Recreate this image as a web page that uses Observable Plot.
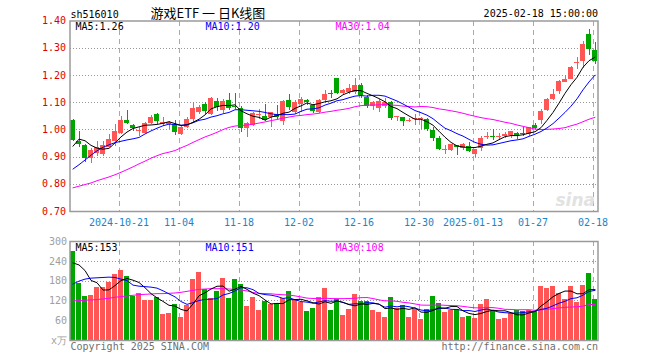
<!DOCTYPE html>
<html>
<head>
<meta charset="utf-8">
<script src="https://cdn.jsdelivr.net/npm/d3@7"></script>
<script src="https://cdn.jsdelivr.net/npm/@observablehq/plot@0.6"></script>
<style>
  html, body { margin: 0; padding: 0; background: #fff; }
  #wrap { position: relative; width: 660px; height: 360px; overflow: hidden; background: #fff; }
  #wrap svg { position: absolute; left: 0; }
</style>
</head>
<body>
<div id="wrap"></div>
<script>
// ---------------- data ----------------
const code = "sh516010";
const title = "游戏ETF 一 日K线图";
const stamp = "2025-02-18 15:00:00";
const tickIdx = [8, 18, 28, 38, 48, 58, 67, 77, 87];
const tickLabels = ["2024-10-21", "11-04", "11-18", "12-02", "12-16", "12-30", "2025-01-13", "01-27", "02-18"];
const priceTicks = [0.70, 0.80, 0.90, 1.00, 1.10, 1.20, 1.30, 1.40];
const volTicks = [0, 60, 120, 180, 240, 300];
const volTickLabels = ["x万", "60", "120", "180", "240", "300"];
const maLabels = ["MA5:1.26", "MA10:1.20", "MA30:1.04"];
const volMaLabels = ["MA5:153", "MA10:151", "MA30:108"];
const footLeft = "Copyright 2025 SINA.COM";
const footRight = "http://finance.sina.com.cn";

const open = [1.034,0.958,0.942,0.896,0.913,0.909,0.937,0.958,0.986,1.034,
  1.015,0.993,0.986,1.023,1.056,1.019,1.020,1.019,0.982,1.009,
  1.037,1.064,1.092,1.056,1.104,1.071,1.107,1.085,1.077,1.006,
  1.017,1.053,1.049,1.044,1.056,1.031,1.107,1.062,1.092,1.108,
  1.090,1.064,1.107,1.133,1.188,1.135,1.139,1.139,1.163,1.120,
  1.086,1.078,1.087,1.099,1.045,1.046,1.032,1.038,1.037,1.037,
  0.998,0.968,0.925,0.925,0.940,0.930,0.940,0.909,0.930,0.972,
  0.974,0.972,0.974,0.979,0.985,0.986,0.982,1.015,1.035,1.071,
  1.111,1.141,1.174,1.186,1.243,1.253,1.352,1.290];
const close = [0.960,0.948,0.896,0.925,0.935,0.942,0.964,0.995,1.035,1.025,
  1.004,0.996,1.023,1.044,1.031,1.027,1.026,0.989,1.009,1.037,
  1.080,1.082,1.068,1.117,1.082,1.106,1.078,1.083,1.006,1.024,
  1.060,1.058,1.036,1.062,1.044,1.104,1.082,1.101,1.111,1.099,
  1.066,1.107,1.131,1.130,1.135,1.144,1.151,1.163,1.125,1.086,
  1.099,1.104,1.099,1.041,1.047,1.031,1.035,1.041,1.040,1.001,
  0.968,0.927,0.928,0.946,0.938,0.945,0.919,0.927,0.970,0.975,
  0.971,0.975,0.982,0.993,0.976,0.984,1.007,1.004,1.068,1.111,
  1.129,1.178,1.184,1.229,1.246,1.312,1.297,1.253];
const high = [1.038,0.995,0.945,0.930,0.958,0.958,0.982,1.019,1.050,1.070,
  1.019,1.007,1.028,1.052,1.060,1.044,1.030,1.035,1.012,1.044,
  1.100,1.090,1.100,1.120,1.117,1.111,1.133,1.133,1.085,1.028,
  1.064,1.074,1.092,1.065,1.090,1.108,1.129,1.108,1.120,1.112,
  1.093,1.111,1.144,1.144,1.190,1.148,1.166,1.188,1.170,1.125,
  1.104,1.112,1.114,1.104,1.048,1.047,1.040,1.058,1.045,1.040,
  1.010,0.976,0.942,0.948,0.944,0.951,0.953,0.928,0.975,0.989,
  1.000,0.985,0.989,0.993,0.989,1.009,1.009,1.023,1.074,1.117,
  1.147,1.181,1.199,1.233,1.267,1.324,1.367,1.320];
const low = [0.957,0.937,0.881,0.876,0.903,0.903,0.934,0.940,0.984,1.019,
  0.995,0.976,0.985,1.019,1.020,1.013,1.000,0.979,0.978,1.005,
  1.025,1.055,1.058,1.052,1.068,1.060,1.070,1.076,0.991,0.972,
  1.012,1.037,1.031,1.009,1.037,1.016,1.070,1.056,1.064,1.090,
  1.060,1.060,1.097,1.117,1.130,1.130,1.130,1.130,1.117,1.078,
  1.070,1.064,1.078,1.034,1.031,1.013,1.027,1.015,1.000,0.995,
  0.956,0.925,0.909,0.921,0.905,0.924,0.918,0.900,0.921,0.964,
  0.962,0.962,0.967,0.970,0.964,0.976,0.976,1.000,1.019,1.068,
  1.107,1.129,1.173,1.184,1.223,1.227,1.275,1.241];
const ma5 = [0.940,0.966,0.960,0.943,0.933,0.929,0.932,0.952,0.974,0.992,
  1.005,1.011,1.017,1.018,1.020,1.024,1.030,1.023,1.016,1.018,
  1.028,1.039,1.055,1.077,1.085,1.090,1.089,1.092,1.070,1.059,
  1.050,1.046,1.036,1.047,1.052,1.061,1.065,1.079,1.088,1.099,
  1.092,1.097,1.103,1.107,1.114,1.129,1.138,1.145,1.144,1.134,
  1.125,1.115,1.103,1.086,1.078,1.064,1.051,1.039,1.039,1.030,
  1.017,0.995,0.973,0.954,0.941,0.937,0.935,0.935,0.940,0.947,
  0.952,0.964,0.975,0.979,0.979,0.982,0.988,0.993,1.008,1.035,
  1.064,1.098,1.134,1.166,1.193,1.230,1.254,1.267];
const ma10 = [0.856,0.872,0.889,0.907,0.923,0.936,0.945,0.953,0.958,0.963,
  0.967,0.972,0.985,0.996,1.006,1.015,1.021,1.020,1.017,1.019,
  1.026,1.035,1.039,1.047,1.052,1.059,1.064,1.074,1.074,1.072,
  1.070,1.068,1.064,1.059,1.056,1.056,1.056,1.058,1.068,1.076,
  1.077,1.081,1.091,1.098,1.107,1.111,1.118,1.124,1.126,1.124,
  1.127,1.127,1.124,1.115,1.106,1.095,1.083,1.071,1.063,1.054,
  1.041,1.023,1.006,0.997,0.986,0.977,0.965,0.954,0.947,0.944,
  0.945,0.950,0.955,0.960,0.963,0.967,0.976,0.984,0.994,1.007,
  1.023,1.043,1.064,1.087,1.114,1.147,1.176,1.201];
const ma30 = [0.787,0.793,0.799,0.805,0.813,0.820,0.827,0.835,0.844,0.854,
  0.864,0.875,0.885,0.896,0.905,0.913,0.918,0.924,0.934,0.943,
  0.954,0.964,0.974,0.982,0.991,1.001,1.009,1.014,1.016,1.018,
  1.021,1.025,1.029,1.034,1.038,1.043,1.047,1.051,1.053,1.056,
  1.058,1.061,1.065,1.068,1.072,1.075,1.079,1.085,1.089,1.091,
  1.091,1.092,1.093,1.091,1.090,1.087,1.086,1.084,1.086,1.085,
  1.082,1.077,1.074,1.070,1.066,1.061,1.055,1.050,1.045,1.041,
  1.038,1.033,1.028,1.024,1.018,1.013,1.008,1.003,1.001,1.002,
  1.003,1.005,1.008,1.015,1.021,1.030,1.039,1.046];
const vol = [271,173,134,137,160,160,176,199,212,193,
  134,141,120,122,130,79,82,110,70,107,
  185,206,155,127,149,188,128,185,170,104,
  130,91,119,110,112,127,149,122,115,88,
  97,130,157,91,125,76,94,139,119,119,
  91,85,69,130,97,106,69,94,64,94,
  133,112,84,91,94,69,72,66,109,124,
  88,63,66,81,91,87,92,88,163,157,
  163,142,124,163,115,166,202,124];
const vma5 = [235,229,212,182,175,152.8,153.4,166.4,181.4,188,
  182.8,175.8,160,142,129.4,118.4,106.6,104.6,94.2,89.6,
  110.8,135.6,144.6,156,164.4,165,149.4,155.4,164,155,
  143.4,136,122.8,110.8,112.4,111.8,123.4,124,125,120.2,
  114.2,110.4,117.4,112.6,120,115.8,108.6,105,110.6,109.4,
  112.4,110.6,96.6,98.8,94.4,97.4,94.2,99.2,86,85.4,
  90.8,99.4,97.4,102.8,102.8,90,82,78.4,82,88,
  91.8,90,90,84.4,77.8,77.6,83.4,87.8,104.2,117.4,
  132.6,142.6,149.8,149.8,141.4,142,154,154];
const vma10 = [171,180,186,189,190,191,192,191,186,181.5,
  167.8,164.6,163.2,161.7,158.7,150.6,141.2,132.3,118.1,109.5,
  114.6,121.1,124.6,125.1,127,137.9,142.5,150,160,159.7,
  154.2,142.7,139.1,137.4,133.7,127.6,129.7,123.4,117.9,116.3,
  113,116.9,120.7,118.8,120.1,115,109.5,111.2,111.6,114.7,
  114.1,109.6,100.8,104.7,101.9,104.9,102.4,97.9,92.4,89.9,
  94.1,96.8,98.3,94.4,94.1,90.4,90.7,87.9,92.4,95.4,
  90.9,86,84.2,83.2,82.9,84.7,86.7,88.9,94.3,97.6,
  105.1,113,118.8,127,129.4,137.3,148.3,151.9];
const vma30 = [120,121,122,123,124,126,128,131,133,135,
  137,139,140,141,142,142,143,144,146,149,
  152,155,156,157,157,157,156,155,153,150.2,
  145.5,142.8,142.3,141.4,139.8,138.7,137.8,135.2,132,128.5,
  127.3,126.9,128.1,127.1,126.9,126.8,127.2,128.2,129.8,130.2,
  127.1,123.1,120.2,120.3,118.6,115.8,113.9,110.8,107.3,107,
  107.1,107.8,106.6,106,105.4,103.4,100.9,99,98.8,100,
  99.7,97.5,94.4,94.1,93,93.3,93.3,91.6,93,94.3,
  96.7,98.6,100.4,101.5,102.1,104.1,108.6,109.6];

// ---------------- build tables ----------------
const RED = "#ff5555", GREEN = "#00a600";
const candles = open.map((o, i) => ({i, o, c: close[i], h: high[i], l: low[i], v: vol[i]}));
const colorOf = d => (d.c >= d.o ? RED : GREEN);
const minBody = 0.004;
const bodyTop = d => { const a = Math.max(d.o, d.c), b = Math.min(d.o, d.c); return a - b < minBody ? (a + b) / 2 + minBody / 2 : a; };
const bodyBot = d => { const a = Math.max(d.o, d.c), b = Math.min(d.o, d.c); return a - b < minBody ? (a + b) / 2 - minBody / 2 : b; };
const idx = (d, i) => i;
const tickPos = tickIdx.map(k => k - 1 / 3);
const labelAt = d => tickLabels[tickPos.indexOf(d)];

const MONO = "'DejaVu Sans Mono', 'Liberation Mono', monospace";
const W = 660;
const xOpts = {domain: [-0.5, 87.5], axis: null, label: null};
const mL = 69.5, mR = 62.5;
const half = 5 / 12;

// ---------------- price panel ----------------
const price = Plot.plot({
  width: W, height: 232,
  marginLeft: mL, marginRight: mR, marginTop: 20.5, marginBottom: 21,
  x: xOpts,
  y: {domain: [0.70, 1.40], axis: null, label: null},
  color: {type: "identity"},
  style: {fontFamily: MONO, fontSize: "10px", background: "transparent", overflow: "visible"},
  marks: [
    Plot.gridY(priceTicks.slice(1, -1), {stroke: "#999", strokeOpacity: 1, strokeDasharray: "1,2", shapeRendering: "crispEdges"}),
    Plot.gridX(tickPos, {stroke: "#aaa", strokeOpacity: 1, strokeDasharray: "5,4", shapeRendering: "crispEdges"}),
    Plot.axisY(priceTicks, {tickSize: 0, tickPadding: 4, label: null, color: "#e00000", fontSize: 10, fontFamily: MONO, tickFormat: d => d.toFixed(2)}),
    Plot.axisX(tickPos, {tickSize: 0, tickPadding: 7, label: null, color: "#1a85c8", fontSize: 10, fontFamily: MONO, tickFormat: labelAt}),
    Plot.text(["sina"], {text: d => d, frameAnchor: "bottom-right", dx: -3, dy: -6, lineAnchor: "bottom", textAnchor: "end",
      fill: "#e2e2e2", fontSize: 17, fontStyle: "italic", fontWeight: "bold", fontFamily: "'DejaVu Sans', sans-serif"}),
    Plot.ruleX(candles, {x: "i", y1: "l", y2: "h", stroke: colorOf, strokeWidth: 1, shapeRendering: "crispEdges"}),
    Plot.rect(candles, {x1: d => d.i - half, x2: d => d.i + half, y1: bodyBot, y2: bodyTop, fill: colorOf, shapeRendering: "crispEdges"}),
    Plot.line(ma30, {x: idx, y: d => d, stroke: "#ff00ff", strokeWidth: 1}),
    Plot.line(ma10, {x: idx, y: d => d, stroke: "#0000ff", strokeWidth: 1}),
    Plot.line(ma5, {x: idx, y: d => d, stroke: "#000000", strokeWidth: 1}),
    Plot.frame({stroke: "#9a9a9a", strokeWidth: 1.5}),
    Plot.text([maLabels[0]], {text: d => d, frameAnchor: "top-left", dx: 5.5, dy: 8.8, lineAnchor: "bottom", textAnchor: "start", fill: "#000"}),
    Plot.text([maLabels[1]], {text: d => d, frameAnchor: "top-left", dx: 135.5, dy: 8.8, lineAnchor: "bottom", textAnchor: "start", fill: "#0000ff"}),
    Plot.text([maLabels[2]], {text: d => d, frameAnchor: "top-left", dx: 265.5, dy: 8.8, lineAnchor: "bottom", textAnchor: "start", fill: "#ff00ff"}),
    Plot.text([code], {text: d => d, frameAnchor: "top-left", dx: 0.5, dy: -3.5, lineAnchor: "bottom", textAnchor: "start", fill: "#000"}),
    Plot.text([title], {text: d => d, frameAnchor: "top-left", dx: 80.5, dy: -3, lineAnchor: "bottom", textAnchor: "start", fill: "#000",
      fontSize: 13, fontFamily: "'Noto Sans CJK SC', sans-serif"}),
    Plot.text([stamp], {text: d => d, frameAnchor: "top-right", dx: 0, dy: -3.8, lineAnchor: "bottom", textAnchor: "end", fill: "#000"})
  ]
});
price.style.top = "0px";

// ---------------- volume panel ----------------
const volume = Plot.plot({
  width: W, height: 128,
  marginLeft: mL, marginRight: mR, marginTop: 9, marginBottom: 20,
  x: xOpts,
  y: {domain: [0, 300], axis: null, label: null},
  color: {type: "identity"},
  style: {fontFamily: MONO, fontSize: "10px", background: "transparent", overflow: "visible"},
  marks: [
    Plot.gridY(volTicks.slice(1, -1), {stroke: "#999", strokeOpacity: 1, strokeDasharray: "1,2", shapeRendering: "crispEdges"}),
    Plot.gridX(tickPos, {stroke: "#aaa", strokeOpacity: 1, strokeDasharray: "5,4", shapeRendering: "crispEdges"}),
    Plot.axisY(volTicks, {tickSize: 0, tickPadding: 3, label: null, color: "#a0a0a0", fontSize: 10, fontFamily: MONO,
      tickFormat: d => volTickLabels[volTicks.indexOf(d)]}),
    Plot.rect(candles, {x1: d => d.i - half, x2: d => d.i + half, y1: () => 0, y2: "v", fill: colorOf, shapeRendering: "crispEdges"}),
    Plot.line(vma30, {x: idx, y: d => d, stroke: "#ff00ff", strokeWidth: 1}),
    Plot.line(vma10, {x: idx, y: d => d, stroke: "#0000ff", strokeWidth: 1}),
    Plot.line(vma5, {x: idx, y: d => d, stroke: "#000000", strokeWidth: 1}),
    Plot.frame({stroke: "#9a9a9a", strokeWidth: 1.5}),
    Plot.text([volMaLabels[0]], {text: d => d, frameAnchor: "top-left", dx: 5.5, dy: 9, lineAnchor: "bottom", textAnchor: "start", fill: "#000"}),
    Plot.text([volMaLabels[1]], {text: d => d, frameAnchor: "top-left", dx: 135.5, dy: 9, lineAnchor: "bottom", textAnchor: "start", fill: "#0000ff"}),
    Plot.text([volMaLabels[2]], {text: d => d, frameAnchor: "top-left", dx: 265.5, dy: 9, lineAnchor: "bottom", textAnchor: "start", fill: "#ff00ff"}),
    Plot.text([footLeft], {text: d => d, frameAnchor: "bottom-left", dx: 0.5, dy: 9, lineAnchor: "bottom", textAnchor: "start", fill: "#707070"}),
    Plot.text([footRight], {text: d => d, frameAnchor: "bottom-right", dx: 0, dy: 9, lineAnchor: "bottom", textAnchor: "end", fill: "#707070"})
  ]
});
volume.style.top = "232px";

const wrap = document.getElementById("wrap");
wrap.appendChild(price);
wrap.appendChild(volume);
</script>
</body>
</html>
